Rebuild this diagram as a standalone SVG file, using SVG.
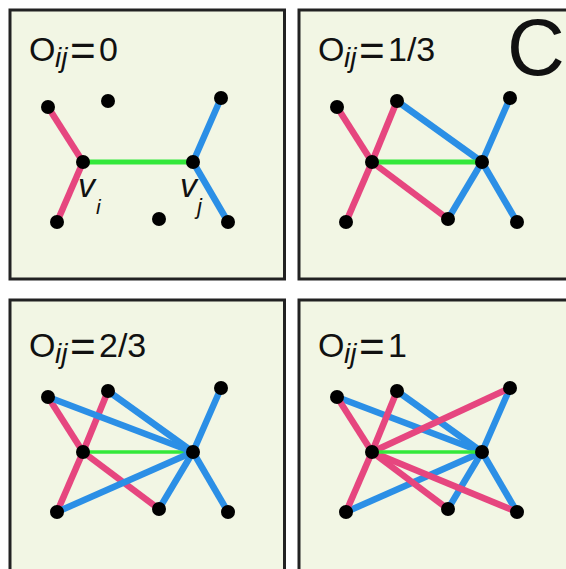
<svg xmlns="http://www.w3.org/2000/svg" width="566" height="569" viewBox="0 0 566 569">
<style>
.panel{fill:#f2f6e4;stroke:#222;stroke-width:3}
.dot{fill:#000}
.p{stroke:#e6467f;stroke-width:6.5;fill:none}
.b{stroke:#2b8fe6;stroke-width:6.5;fill:none}
.g{stroke:#33e83a;stroke-width:5;fill:none}
.g2{stroke:#33e83a;stroke-width:3.5;fill:none}
.t{font-family:"Liberation Sans",Arial,Helvetica,sans-serif;font-size:34px;fill:#111}
.it{font-style:italic}
.big{font-family:"Liberation Sans",Arial,Helvetica,sans-serif;font-size:80px;fill:#111}
</style>
<defs>
<circle id="d" r="7" class="dot"/>
</defs>
<rect width="566" height="569" fill="#fff"/>

<!-- Panel 1 -->
<g id="panel1">
<rect class="panel" x="10" y="10" width="274.5" height="269"/>
<text class="t" x="29" y="61">O<tspan class="it" font-size="28" x="55" dy="6">ij</tspan><tspan x="70" dy="-1" font-size="44">=</tspan><tspan x="99" dy="-5">0</tspan></text>
<g id="connectors1">
<line class="p" x1="48" y1="107" x2="83" y2="162"/>
<line class="p" x1="83" y1="162" x2="57" y2="222"/>
<line class="b" x1="193" y1="162" x2="221" y2="98"/>
<line class="b" x1="193" y1="162" x2="228" y2="222"/>
<line class="g" x1="83" y1="162" x2="193" y2="162"/>
</g>
<g id="p1-A"><use href="#d" x="48" y="107"/></g>
<g id="p1-B"><use href="#d" x="108" y="101"/></g>
<g id="p1-C"><use href="#d" x="221" y="98"/></g>
<g id="p1-vi"><use href="#d" x="83" y="162"/><text class="t it" x="78" y="197" font-size="29">v<tspan x="96" y="214" font-size="21">i</tspan></text></g>
<g id="p1-vj"><use href="#d" x="193" y="162"/><text class="t it" x="180" y="197" font-size="29">v<tspan x="197" y="214" font-size="22">j</tspan></text></g>
<g id="p1-D"><use href="#d" x="57" y="222"/></g>
<g id="p1-E"><use href="#d" x="159" y="219"/></g>
<g id="p1-F"><use href="#d" x="228" y="222"/></g>
</g>

<!-- Panel 2 -->
<g id="panel2" transform="translate(289,0)">
<rect class="panel" x="10" y="10" width="285" height="269"/>
<text class="t" x="29" y="61">O<tspan class="it" font-size="28" x="55" dy="6">ij</tspan><tspan x="70" dy="-1" font-size="44">=</tspan><tspan x="99" dy="-5">1/3</tspan></text>
<text class="big" x="218" y="75">C</text>
<g id="connectors2">
<line class="p" x1="48" y1="107" x2="83" y2="162"/>
<line class="p" x1="83" y1="162" x2="57" y2="222"/>
<line class="p" x1="83" y1="162" x2="108" y2="101"/>
<line class="p" x1="83" y1="162" x2="159" y2="219"/>
<line class="b" x1="193" y1="162" x2="221" y2="98"/>
<line class="b" x1="193" y1="162" x2="228" y2="222"/>
<line class="b" x1="193" y1="162" x2="108" y2="101"/>
<line class="b" x1="193" y1="162" x2="159" y2="219"/>
<line class="g" x1="83" y1="162" x2="193" y2="162"/>
</g>
<g id="p2-A"><use href="#d" x="48" y="107"/></g>
<g id="p2-B"><use href="#d" x="108" y="101"/></g>
<g id="p2-C"><use href="#d" x="221" y="98"/></g>
<g id="p2-vi"><use href="#d" x="83" y="162"/></g>
<g id="p2-vj"><use href="#d" x="193" y="162"/></g>
<g id="p2-D"><use href="#d" x="57" y="222"/></g>
<g id="p2-E"><use href="#d" x="159" y="219"/></g>
<g id="p2-F"><use href="#d" x="228" y="222"/></g>
</g>

<!-- Panel 3 -->
<g id="panel3" transform="translate(0,290)">
<rect class="panel" x="10" y="10" width="274.5" height="285"/>
<text class="t" x="29" y="67">O<tspan class="it" font-size="28" x="55" dy="6">ij</tspan><tspan x="70" dy="-1" font-size="44">=</tspan><tspan x="99" dy="-5">2/3</tspan></text>
<g id="connectors3">
<line class="p" x1="48" y1="107" x2="83" y2="162"/>
<line class="p" x1="83" y1="162" x2="57" y2="222"/>
<line class="p" x1="83" y1="162" x2="108" y2="101"/>
<line class="p" x1="83" y1="162" x2="159" y2="219"/>
<line class="g2" x1="83" y1="162" x2="193" y2="162"/>
<line class="b" x1="193" y1="162" x2="221" y2="98"/>
<line class="b" x1="193" y1="162" x2="228" y2="222"/>
<line class="b" x1="193" y1="162" x2="108" y2="101"/>
<line class="b" x1="193" y1="162" x2="159" y2="219"/>
<line class="b" x1="193" y1="162" x2="48" y2="107"/>
<line class="b" x1="193" y1="162" x2="57" y2="222"/>
</g>
<g id="p3-A"><use href="#d" x="48" y="107"/></g>
<g id="p3-B"><use href="#d" x="108" y="101"/></g>
<g id="p3-C"><use href="#d" x="221" y="98"/></g>
<g id="p3-vi"><use href="#d" x="83" y="162"/></g>
<g id="p3-vj"><use href="#d" x="193" y="162"/></g>
<g id="p3-D"><use href="#d" x="57" y="222"/></g>
<g id="p3-E"><use href="#d" x="159" y="219"/></g>
<g id="p3-F"><use href="#d" x="228" y="222"/></g>
</g>

<!-- Panel 4 -->
<g id="panel4" transform="translate(289,290)">
<rect class="panel" x="10" y="10" width="285" height="285"/>
<text class="t" x="29" y="67">O<tspan class="it" font-size="28" x="55" dy="6">ij</tspan><tspan x="70" dy="-1" font-size="44">=</tspan><tspan x="99" dy="-5">1</tspan></text>
<g id="connectors4">
<line class="b" x1="193" y1="162" x2="48" y2="107"/>
<line class="b" x1="193" y1="162" x2="108" y2="101"/>
<line class="b" x1="193" y1="162" x2="221" y2="98"/>
<line class="b" x1="193" y1="162" x2="57" y2="222"/>
<line class="b" x1="193" y1="162" x2="159" y2="219"/>
<line class="b" x1="193" y1="162" x2="228" y2="222"/>
<line class="p" x1="83" y1="162" x2="48" y2="107"/>
<line class="p" x1="83" y1="162" x2="108" y2="101"/>
<line class="p" x1="83" y1="162" x2="221" y2="98"/>
<line class="p" x1="83" y1="162" x2="57" y2="222"/>
<line class="p" x1="83" y1="162" x2="159" y2="219"/>
<line class="p" x1="83" y1="162" x2="228" y2="222"/>
<line class="g2" x1="83" y1="162" x2="193" y2="162"/>
</g>
<g id="p4-A"><use href="#d" x="48" y="107"/></g>
<g id="p4-B"><use href="#d" x="108" y="101"/></g>
<g id="p4-C"><use href="#d" x="221" y="98"/></g>
<g id="p4-vi"><use href="#d" x="83" y="162"/></g>
<g id="p4-vj"><use href="#d" x="193" y="162"/></g>
<g id="p4-D"><use href="#d" x="57" y="222"/></g>
<g id="p4-E"><use href="#d" x="159" y="219"/></g>
<g id="p4-F"><use href="#d" x="228" y="222"/></g>
</g>
</svg>
